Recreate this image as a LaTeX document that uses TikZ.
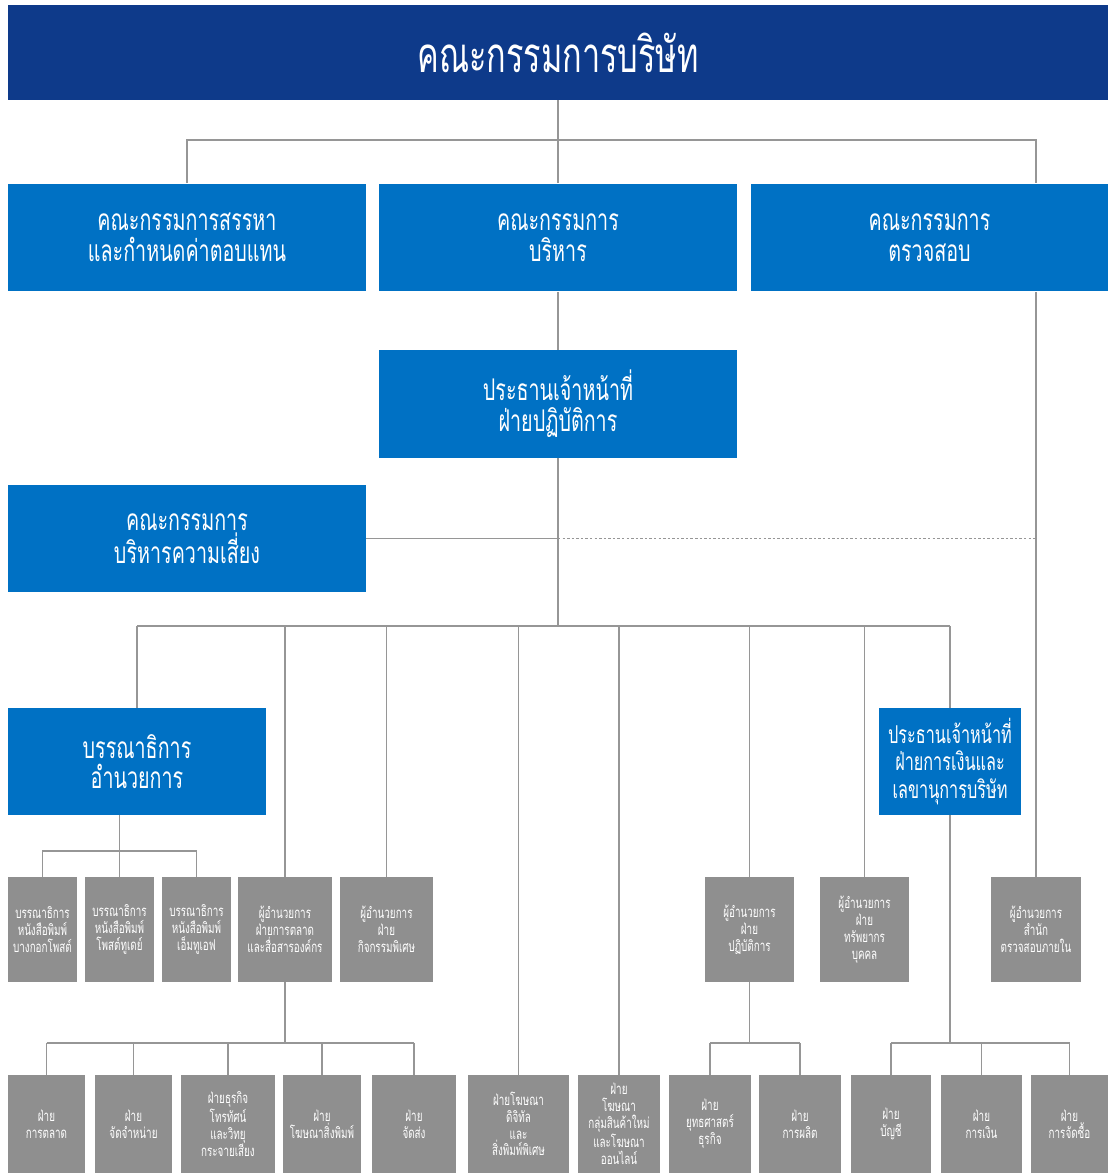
\documentclass[tikz,border=0pt]{standalone}
\usepackage{fontspec}
\newfontfamily\thaifont[Script=Thai,FakeStretch=0.66]{Loma}
\usepackage{tikz}
\usetikzlibrary{arrows,shapes,positioning}
\usepackage{xcolor}
\definecolor{ppnavy}{RGB}{14,58,138}
\definecolor{ppblue}{RGB}{0,113,196}
\definecolor{ppgray}{RGB}{143,143,143}
\definecolor{ppline}{RGB}{150,150,150}
\tikzstyle{board} = [rectangle, minimum width=22cm, minimum height=1.9cm, inner sep=0pt, fill=ppnavy, text=white, font=\thaifont\fontsize{28}{28}\selectfont]
\tikzstyle{unit} = [rectangle, minimum height=2.16cm, inner sep=0pt, align=center, fill=ppblue, text=white, font=\thaifont\fontsize{17}{17.5}\selectfont]
\tikzstyle{dept} = [rectangle, minimum height=2.1cm, inner sep=0pt, align=center, fill=ppgray, text=white, font=\thaifont\fontsize{8.5}{9.6}\selectfont]
\tikzstyle{sect} = [dept, minimum height=1.96cm]
\tikzstyle{link} = [draw=ppline, line width=1.1pt]
\tikzstyle{dotlink} = [draw=ppline, line width=1.1pt, dash pattern=on 1.4pt off 1.2pt]

\begin{document}
\begin{tikzpicture}[x=0.02cm, y=-0.02cm]
\useasboundingbox (0,0) rectangle (1108,1173);

% Board
\node (board) [board] at (558,52.5) {คณะกรรมการบริษัท};

% Committees
\node (nom) [unit, minimum width=7.16cm] at (187,237.5) {คณะกรรมการสรรหา\\และกำหนดค่าตอบแทน};
\node (exec) [unit, minimum width=7.16cm] at (558,237.5) {คณะกรรมการ\\บริหาร};
\node (audit) [unit, minimum width=7.14cm] at (929.5,237.5) {คณะกรรมการ\\ตรวจสอบ};

% COO and risk committee
\node (coo) [unit, minimum width=7.16cm] at (558,404) {ประธานเจ้าหน้าที่\\ฝ่ายปฏิบัติการ};
\node (risk) [unit, minimum width=7.16cm] at (187,538.5) {คณะกรรมการ\\บริหารความเสี่ยง};

% Editor in chief and CFO
\node (edit) [unit, minimum width=5.16cm, minimum height=2.14cm] at (137,761.5) {บรรณาธิการ\\อำนวยการ};
\node (cfo) [unit, minimum width=2.84cm, minimum height=2.14cm, font=\thaifont\fontsize{14}{15.5}\selectfont] at (950,761.5) {ประธานเจ้าหน้าที่\\ฝ่ายการเงินและ\\เลขานุการบริษัท};

% Directors
\node (ed1) [dept, minimum width=1.38cm] at (42.5,929.5) {บรรณาธิการ\\หนังสือพิมพ์\\บางกอกโพสต์};
\node (ed2) [dept, minimum width=1.38cm] at (119.5,929.5) {บรรณาธิการ\\หนังสือพิมพ์\\โพสต์ทูเดย์};
\node (ed3) [dept, minimum width=1.38cm] at (196.5,929.5) {บรรณาธิการ\\หนังสือพิมพ์\\เอ็มทูเอฟ};
\node (mkt) [dept, minimum width=1.88cm] at (285,929.5) {ผู้อำนวยการ\\ฝ่ายการตลาด\\และสื่อสารองค์กร};
\node (spec) [dept, minimum width=1.86cm] at (386.5,929.5) {ผู้อำนวยการ\\ฝ่าย\\กิจกรรมพิเศษ};
\node (ops) [dept, minimum width=1.78cm] at (749.5,929.5) {ผู้อำนวยการ\\ฝ่าย\\ปฏิบัติการ};
\node (hr) [dept, minimum width=1.78cm] at (864.5,929.5) {ผู้อำนวยการ\\ฝ่าย\\ทรัพยากร\\บุคคล};
\node (iaud) [dept, minimum width=1.8cm] at (1036,929.5) {ผู้อำนวยการ\\สำนัก\\ตรวจสอบภายใน};

% Departments
\node (d1) [sect, minimum width=1.54cm] at (46.5,1124) {ฝ่าย\\การตลาด};
\node (d2) [sect, minimum width=1.54cm] at (133.5,1124) {ฝ่าย\\จัดจำหน่าย};
\node (d3) [sect, minimum width=1.88cm] at (228,1124) {ฝ่ายธุรกิจ\\โทรทัศน์\\และวิทยุ\\กระจายเสียง};
\node (d4) [sect, minimum width=1.56cm] at (322,1124) {ฝ่าย\\โฆษณาสิ่งพิมพ์};
\node (d5) [sect, minimum width=1.68cm] at (414,1124) {ฝ่าย\\จัดส่ง};
\node (d6) [sect, minimum width=2.02cm] at (518.5,1124) {ฝ่ายโฆษณา\\ดิจิทัล\\และ\\สิ่งพิมพ์พิเศษ};
\node (d7) [sect, minimum width=1.64cm] at (619,1124) {ฝ่าย\\โฆษณา\\กลุ่มสินค้าใหม่\\และโฆษณา\\ออนไลน์};
\node (d8) [sect, minimum width=1.64cm] at (710,1124) {ฝ่าย\\ยุทธศาสตร์\\ธุรกิจ};
\node (d9) [sect, minimum width=1.64cm] at (800,1124) {ฝ่าย\\การผลิต};
\node (d10) [sect, minimum width=1.6cm] at (891,1124) {ฝ่าย\\บัญชี};
\node (d11) [sect, minimum width=1.62cm] at (981.5,1124) {ฝ่าย\\การเงิน};
\node (d12) [sect, minimum width=1.56cm] at (1069.5,1124) {ฝ่าย\\การจัดซื้อ};

% Board level lines
\coordinate (topbus) at (558,140);
\draw[link] (board.south) -- (exec.north);
\draw[link] (nom.north) -- (nom.north |- topbus) -- (topbus -| iaud.north) -- (iaud.north |- audit.north);
\draw[link] (audit.south -| iaud.north) -- (iaud.north);
\draw[link] (exec.south) -- (coo.north);
\draw[link] (risk.east) -- (risk.east -| coo.south);
\draw[dotlink] (risk.east -| coo.south) -- (risk.east -| iaud.north);

% Operations bus
\coordinate (opsbus) at (558,626);
\draw[link] (coo.south) -- (opsbus);
\draw[link] (opsbus -| edit.north) -- (opsbus -| cfo.north);
\foreach \n in {edit,mkt,spec,d6,d7,ops,hr,cfo}
  \draw[link] (opsbus -| \n.north) -- (\n.north);

% Editorial
\coordinate (edbus) at (119.5,851);
\draw[link] (edit.south -| ed2.north) -- (ed2.north);
\draw[link] (ed1.north) -- (ed1.north |- edbus) -- (ed3.north |- edbus) -- (ed3.north);

% Lower buses
\coordinate (lowbus) at (558,1043);
\draw[link] (mkt.south) -- (mkt.south |- lowbus);
\draw[link] (lowbus -| d1.north) -- (lowbus -| d5.north);
\foreach \n in {d1,d2,d3,d4,d5}
  \draw[link] (lowbus -| \n.north) -- (\n.north);
\draw[link] (ops.south) -- (ops.south |- lowbus);
\draw[link] (lowbus -| d8.north) -- (lowbus -| d9.north);
\foreach \n in {d8,d9}
  \draw[link] (lowbus -| \n.north) -- (\n.north);
\draw[link] (cfo.south) -- (cfo.south |- lowbus);
\draw[link] (lowbus -| d10.north) -- (lowbus -| d12.north);
\foreach \n in {d10,d11,d12}
  \draw[link] (lowbus -| \n.north) -- (\n.north);
\end{tikzpicture}
\end{document}
